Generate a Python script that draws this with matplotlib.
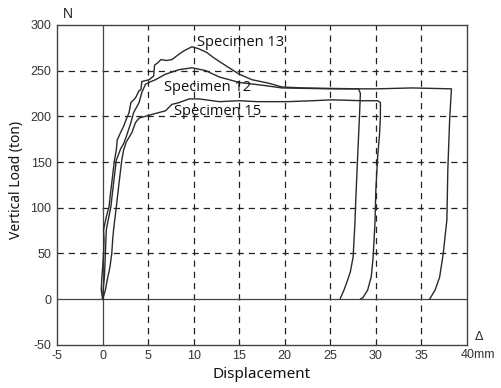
import matplotlib
matplotlib.use("Agg")
import matplotlib.pyplot as plt

plt.rcParams["axes.unicode_minus"] = False

# ---- data (displacement mm, load ton) ----
s13_x = [0, -0.15, -0.1, 0.0, 0.1, 0.15, 0.1, 0.4, 0.7, 0.85, 1.0, 1.15, 1.3, 1.5, 1.6, 2.0, 2.3, 2.6,
         2.9, 3.1, 3.6, 4.0, 4.2, 4.3, 5.1, 5.6, 5.7, 6.0, 6.4, 7.0, 7.6, 8.4, 9.0, 9.8, 10.5, 11.4,
         12.2, 12.8, 14.2, 15.0, 16.4, 18.3, 19.7, 22.0, 25.0, 28.1,
         28.3, 28.2, 28.0, 27.8, 27.7, 27.5, 27.2, 26.9, 26.5, 26.1]
s13_y = [0, 10, 22, 35, 50, 65, 76, 90, 101, 115, 127, 140, 152, 163, 174, 183, 189, 197,
         204, 215, 220, 228, 229, 238, 240, 244, 256, 258, 262, 261, 262, 268, 272, 276, 274, 270,
         264, 260, 251, 246, 240, 236, 232, 231, 230.5, 230,
         225, 200, 156, 110, 83, 46, 30, 21, 10, 1]

s12_x = [0, 0.05, 0.2, 0.3, 0.4, 0.9, 1.2, 1.5, 2.0, 2.3, 2.6, 3.1, 3.4, 4.0, 4.3, 4.7, 5.3, 5.8,
         6.9, 8.4, 9.8, 11.3, 12.8, 15.0, 17.5, 19.7, 25.0, 30.0, 34.0, 38.3,
         38.1, 37.9, 37.8, 37.4, 37.0, 36.5, 35.9]
s12_y = [0, 10, 25, 50, 76, 101, 127, 152, 165, 170, 178, 193, 204, 215, 226, 235, 238, 240,
         246, 251, 253, 250, 243, 237, 234, 231, 230, 230, 231, 230,
         196, 141, 87, 50, 24, 10, 0]

s15_x = [0, 0.3, 0.5, 0.8, 1.0, 1.1, 1.2, 1.5, 1.8, 2.1, 2.3, 2.6, 3.2, 3.6, 4.0, 5.4, 6.9, 7.6,
         8.4, 9.5, 10.6, 12.8, 15.0, 17.0, 20.3, 23.0, 25.2, 28.5, 30.2, 30.5,
         30.5, 30.4, 30.2, 30.0, 29.9, 29.7, 29.5, 29.1, 28.6, 28.3]
s15_y = [0, 10, 21, 35, 50, 65, 76, 101, 127, 152, 163, 172, 182, 193, 198, 202, 206, 213,
         215, 219, 219, 216, 217, 216, 216, 217, 218, 217, 217, 215,
         200, 180, 156, 120, 83, 46, 25, 10, 2, 0]

series_names = ["Specimen 13", "Specimen 12", "Specimen 15"]
label_pos = [(15.1, 281), (11.5, 232), (12.6, 205)]

x_ticks = [-5, 0, 5, 10, 15, 20, 25, 30, 35, 40]
x_tick_labels = ["-5", "0", "5", "10", "15", "20", "25", "30", "35", ""]
y_ticks = [-50, 0, 50, 100, 150, 200, 250, 300]
y_tick_labels = ["-50", "0", "50", "100", "150", "200", "250", "300"]

fig = plt.figure(figsize=(5.01, 3.88), dpi=100)
ax = fig.add_axes([0.114, 0.111, 0.818, 0.825])

line_color = "#2a2a2a"
for xs, ys in [(s13_x, s13_y), (s12_x, s12_y), (s15_x, s15_y)]:
    ax.plot(xs, ys, color=line_color, lw=1.0, zorder=3)

ax.set_xlim(-5, 40)
ax.set_ylim(-50, 300)
ax.set_xticks(x_ticks)
ax.set_xticklabels(x_tick_labels)
ax.set_yticks(y_ticks)
ax.set_yticklabels(y_tick_labels)
ax.tick_params(length=0, pad=4, labelsize=9, labelcolor="#333333")
for lab in ax.get_xticklabels() + ax.get_yticklabels():
    lab.set_fontfamily("Liberation Sans")

# dashed grid (except 0 lines which are solid)
for xv in [5, 10, 15, 20, 25, 30, 35]:
    ax.axvline(xv, color="#222222", lw=0.9, ls=(0, (5, 4)), zorder=1)
for yv in [50, 100, 150, 200, 250]:
    ax.axhline(yv, color="#222222", lw=0.9, ls=(0, (5, 4)), zorder=1)
ax.axvline(0, color="#444444", lw=0.9, zorder=2)
ax.axhline(0, color="#444444", lw=0.9, zorder=2)

for sp in ax.spines.values():
    sp.set_color("#444444")
    sp.set_linewidth(1.0)

for name, (tx, ty) in zip(series_names, label_pos):
    ax.text(tx, ty, name, ha="center", va="center", fontsize=10.5,
            family="Open Sans", color="#111111", zorder=4)

ax.set_xlabel("Displacement", fontsize=11, family="Noto Sans", color="#111111", labelpad=3)
ax.set_ylabel("Vertical Load (ton)", fontsize=10, family="Noto Sans", color="#111111")
ax.yaxis.set_label_coords(-0.082, 0.515)

ax.annotate("40mm", xy=(40, 0), xycoords=("data", "axes fraction"), xytext=(-6.5, -4),
            textcoords="offset pixels", ha="left", va="top", fontsize=9,
            family="Liberation Sans", color="#333333")
ax.annotate("\u0394", xy=(1, 0), xycoords="axes fraction", xytext=(12, 2),
            textcoords="offset pixels", ha="center", va="bottom", fontsize=9,
            family="DejaVu Sans", color="#333333")
ax.annotate("N", xy=(0, 1), xycoords="axes fraction", xytext=(11, 4),
            textcoords="offset pixels", ha="center", va="bottom", fontsize=10,
            family="Liberation Sans", color="#222222")

fig.savefig("out.png", dpi=100, facecolor="white")
